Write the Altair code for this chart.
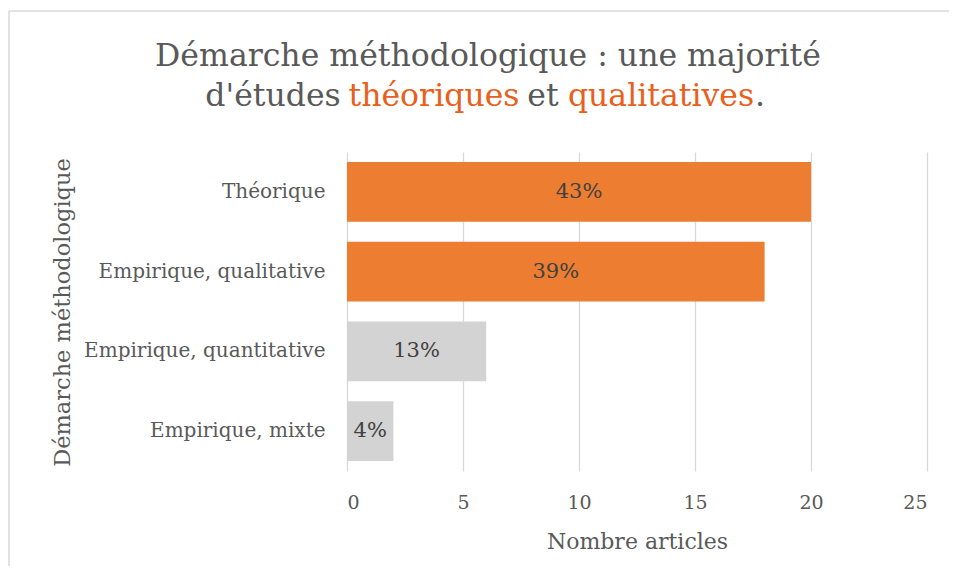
import altair as alt
import pandas as pd

categories = ["Théorique", "Empirique, qualitative", "Empirique, quantitative", "Empirique, mixte"]
counts = [20, 18, 6, 2]
pct_labels = ["43%", "39%", "13%", "4%"]
bar_colors = ["#ED7D31", "#ED7D31", "#D3D3D3", "#D3D3D3"]
x_ticks = [0, 5, 10, 15, 20, 25]

title_line1 = "Démarche méthodologique : une majorité"
title_parts = ["d'études", "théoriques", "et", "qualitatives", "."]
title_part_colors = ["#595959", "#E8601C", "#595959", "#E8601C", "#595959"]
title_part_centers = [273, 434, 543, 661, 760]  # page x centres

FONT = "DejaVu Serif"
TXT = "#595959"

df = pd.DataFrame({"cat": categories, "n": counts, "pct": pct_labels})

W, H = 580, 319
LEFT, TOP = 339, 144  # padding so plot area sits at page (347,152)

xscale = alt.Scale(domain=[0, 25], nice=False, zero=True)

x = alt.X("n:Q", scale=xscale,
          axis=alt.Axis(values=x_ticks, title="Nombre articles", grid=True, gridColor="#D9D9D9",
                        gridWidth=1.3, domain=False, ticks=False, labelFont=FONT, labelFontSize=19,
                        labelColor=TXT, labelPadding=22, titleFont=FONT, titleFontSize=22,
                        titleFontWeight="normal", titleColor=TXT, titleY=70, titleBaseline="middle"))
y = alt.Y("cat:N", sort=categories,
          scale=alt.Scale(paddingInner=0.25, paddingOuter=0.125),
          axis=alt.Axis(title="Démarche méthodologique", domain=False, ticks=False, grid=False,
                        labelFont=FONT, labelFontSize=20, labelColor=TXT, labelPadding=22, labelLimit=400,
                        titleFont=FONT, titleFontSize=22.5, titleFontWeight="normal", titleColor=TXT,
                        titleX=-285, titleY=160, titleAngle=270, titleBaseline="middle",
                        titleAnchor="middle", titleAlign="center"))

bars = alt.Chart(df).mark_bar().encode(
    x=x, y=y,
    color=alt.Color("cat:N", scale=alt.Scale(domain=categories, range=bar_colors), legend=None),
)

labels = alt.Chart(df).transform_calculate(half="datum.n / 2").mark_text(
    font=FONT, fontSize=21, color="#404040", baseline="middle", align="center"
).encode(x=alt.X("half:Q", scale=xscale), y=alt.Y("cat:N", sort=categories), text="pct:N")

frame_src = alt.Data(values=[{"k": 1}])
frame_left = alt.Chart(frame_src).mark_rule(stroke="#D9D9D9", strokeWidth=1.5).encode(
    x=alt.value(9 - 347), y=alt.value(11 - 152), y2=alt.value(700)
)
frame_top = alt.Chart(frame_src).mark_rule(stroke="#D9D9D9", strokeWidth=1.5).encode(
    x=alt.value(9 - 347), x2=alt.value(900), y=alt.value(11 - 152)
)

t1 = alt.Chart(alt.Data(values=[{"t": title_line1}])).mark_text(
    font=FONT, fontSize=31.5, color=TXT, align="center", baseline="middle"
).encode(text="t:N", x=alt.value(488 - 347), y=alt.value(57 - 152))

t2_df = pd.DataFrame({"t": title_parts, "c": title_part_colors, "px": [c - 347 for c in title_part_centers]})
t2 = alt.Chart(t2_df).mark_text(
    font=FONT, fontSize=31.5, align="center", baseline="middle"
).encode(text="t:N", x=alt.X("px:Q", scale=None), y=alt.value(97 - 152),
         color=alt.Color("c:N", scale=None))

chart = alt.layer(frame_left, frame_top, bars, labels, t1, t2).properties(
    width=W, height=H,
    autosize=alt.AutoSizeParams(type="none"),
    padding={"left": LEFT, "top": TOP, "right": 22, "bottom": 95},
).configure(background="white").configure_view(strokeWidth=0)

chart.save("out.html", embed_options={"renderer": "svg", "actions": False})
